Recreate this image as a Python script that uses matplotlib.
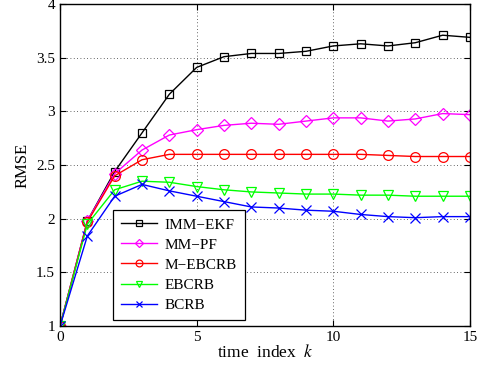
import matplotlib
matplotlib.use("Agg")
import matplotlib.pyplot as plt

plt.rcParams['font.family'] = ['Liberation Serif', 'DejaVu Serif']
plt.rcParams['mathtext.fontset'] = 'stix'

k = list(range(16))

# RMSE
imm_ekf = [1.0, 1.98, 2.44, 2.80, 3.16, 3.41, 3.51, 3.54, 3.54, 3.56, 3.61, 3.63, 3.61, 3.64, 3.71, 3.69]
mm_pf = [1.0, 1.98, 2.42, 2.64, 2.78, 2.83, 2.87, 2.89, 2.88, 2.91, 2.94, 2.94, 2.91, 2.93, 2.98, 2.97]
m_ebcrb = [1.0, 1.97, 2.40, 2.55, 2.60, 2.60, 2.60, 2.60, 2.60, 2.60, 2.60, 2.60, 2.59, 2.58, 2.58, 2.58]
ebcrb = [1.0, 1.95, 2.27, 2.35, 2.34, 2.30, 2.27, 2.25, 2.24, 2.23, 2.23, 2.22, 2.22, 2.21, 2.21, 2.21]
bcrb = [1.0, 1.84, 2.21, 2.32, 2.26, 2.21, 2.16, 2.11, 2.10, 2.08, 2.07, 2.04, 2.02, 2.01, 2.02, 2.02]

labels = ['IMM\u2212EKF', 'MM\u2212PF', 'M\u2212EBCRB', 'EBCRB', 'BCRB']
xticks = [0, 5, 10, 15]
yticks = [1, 1.5, 2, 2.5, 3, 3.5, 4]

fig = plt.figure(figsize=(4.84, 3.71), dpi=100)
ax = fig.add_axes([0.124, 0.121, 0.847, 0.868])

styles = [('k', 's', 6), ('#ff00ff', 'D', 6), ('#ff0000', 'o', 7),
          ('#00ff00', 'v', 7), ('#0000ff', 'x', 7)]
for ys, lab, (c, m, ms) in zip([imm_ekf, mm_pf, m_ebcrb, ebcrb, bcrb], labels, styles):
    kw = {} if m == 'x' else dict(markerfacecolor='none')
    ax.plot(k, ys, color=c, marker=m, markersize=ms, markeredgewidth=0.9,
            linewidth=1.0, label=lab, **kw)

ax.set_xlim(0, 15)
ax.set_ylim(1, 4)
ax.set_xticks(xticks)
ax.set_yticks(yticks)
ax.set_yticklabels(['1', '1.5', '2', '2.5', '3', '3.5', '4'])
ax.tick_params(direction='in', top=True, right=True, labelsize=11, length=4, width=0.8)
ax.grid(True, linestyle=(0, (1, 3)), color='k', linewidth=0.6, alpha=0.8)
for s in ax.spines.values():
    s.set_linewidth(1.0)

ax.set_xlabel('time  index  $k$', fontsize=12.5, labelpad=0)
ax.set_ylabel('RMSE', fontsize=12, labelpad=4)

leg = ax.legend(loc='lower left', bbox_to_anchor=(0.129, 0.02), fontsize=11,
                frameon=True, fancybox=False, edgecolor='k', framealpha=1,
                borderpad=0.5, handlelength=2.4, handletextpad=0.5,
                labelspacing=0.42, borderaxespad=0, markerscale=0.7)
leg.get_frame().set_linewidth(0.9)

fig.savefig('out.png', dpi=100)
